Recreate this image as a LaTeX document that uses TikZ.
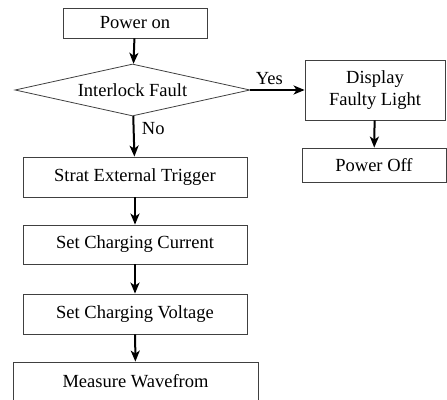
\documentclass[tikz,border=0pt]{standalone}
\usepackage{fontspec}
\setmainfont{Liberation Serif}
\usetikzlibrary{shapes.geometric,arrows.meta}

\tikzset{
  stepbox/.style={draw=black!75, line width=0.8pt, rectangle, inner sep=0pt},
  flow/.style={line width=2pt, -{Stealth[length=11pt,width=9pt,inset=3pt]}}
}

\begin{document}
\begin{tikzpicture}[x=1pt,y=1pt,font=\fontsize{18.5}{21.5}\selectfont]
\useasboundingbox (0,0) rectangle (447,399);

%left column
\node[stepbox, minimum width=144pt, minimum height=30pt] (power) at (135,376) {Power on};
\node[draw=black!75, line width=0.8pt, diamond, aspect=4.5, inner sep=0pt,
      minimum width=235pt, minimum height=52pt] (fault) at (132.5,309) {Interlock Fault};
\node[stepbox, minimum width=224pt, minimum height=40pt] (trigger) at (135,222) {Strat External Trigger};
\node[stepbox, minimum width=224pt, minimum height=39pt] (current) at (135,154.5) {Set Charging Current};
\node[stepbox, minimum width=224pt, minimum height=40pt] (voltage) at (135,85) {Set Charging Voltage};
\node[stepbox, minimum width=245pt, minimum height=38pt] (measure) at (135.5,18) {Measure Wavefrom};

%right column
\node[stepbox, minimum width=140pt, minimum height=60pt, align=center] (display) at (375,309) {Display\\Faulty Light};
\node[stepbox, minimum width=144pt, minimum height=34pt] (off) at (374,234) {Power Off};

\draw[flow] (power) -- (fault);
\draw[flow] (fault) -- node[pos=0.3, right=4pt] {No} (trigger);
\draw[flow] (trigger) -- (current);
\draw[flow] (current) -- (voltage);
\draw[flow] (voltage) -- (measure);

\draw[flow] (fault.east) -- node[pos=0.35, above=1pt] {Yes} (display.west);
\draw[flow] (display) -- (off);
\end{tikzpicture}
\end{document}
